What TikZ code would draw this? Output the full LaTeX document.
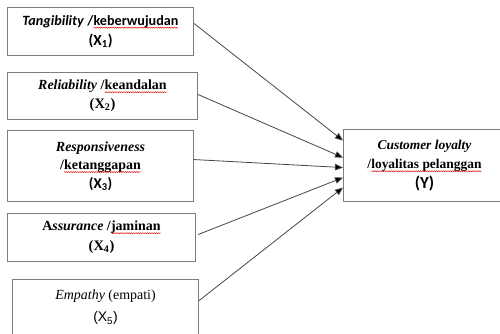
\documentclass[tikz,border=0pt]{standalone}
\usepackage{fontspec}
\setmainfont{Liberation Serif}
\newfontfamily\carl{Carlito}
\newfontfamily\arial{Liberation Sans}
\usetikzlibrary{arrows.meta,decorations.pathmorphing}
\definecolor{boxgray}{RGB}{125,125,125}
\definecolor{arrowgray}{RGB}{70,70,70}
\newcommand\redwave[1]{\tikz[baseline=(w.base)]{\node[draw=none, fill=none, inner sep=0pt, outer sep=0pt, minimum width=0pt, minimum height=0pt, anchor=base] (w) {#1};
  \draw[red!85!black, line width=0.35pt, decorate, decoration={snake, amplitude=0.55pt, segment length=1.8pt}] ([yshift=-2.3pt]w.base west) -- ([yshift=-2.3pt]w.base east);}}
\begin{document}
\begin{tikzpicture}[x=1bp,y=-1bp,
  box/.style={draw=boxgray, line width=1.1bp, align=center, inner sep=0pt, anchor=north west},
  link/.style={draw=arrowgray, line width=0.8bp, -{Triangle[length=8bp,width=6.5bp,fill=black]}}]
\useasboundingbox (0,0) rectangle (500,333);

\node[box, minimum width=186bp, minimum height=48bp, font=\fontsize{14.2}{20}\selectfont\carl\bfseries] (b1) at (7,7)
  {\textit{Tangibility} /\redwave{keberwujudan}\\{\fontsize{15.5}{20}\selectfont(X\textsubscript{1})}};
\node[box, minimum width=190bp, minimum height=47bp, font=\fontsize{14}{19}\selectfont\bfseries] (b2) at (7,72)
  {\textit{Reliability} /\redwave{keandalan}\\{\fontsize{14.5}{19}\selectfont(X\textsubscript{2})}};
\node[box, minimum width=186bp, minimum height=71bp, font=\fontsize{14}{18.5}\selectfont\bfseries] (b3) at (7,130)
  {\textit{Responsiveness}\\/\redwave{ketanggapan}\\{\carl\fontsize{15}{18.5}\selectfont(X\textsubscript{3})}};
\node[box, minimum width=188bp, minimum height=48bp, font=\fontsize{14}{20}\selectfont\bfseries] (b4) at (7,213)
  {A\textit{ssurance} /\redwave{jaminan}\\{\fontsize{14.5}{20}\selectfont(X\textsubscript{4})}};
\node[box, minimum width=186bp, minimum height=56bp, font=\fontsize{14}{22}\selectfont] (b5) at (12,279)
  {\textit{Empathy} (empati)\\{\arial\fontsize{14}{22}\selectfont(X\textsubscript{5})}};
\node[box, minimum width=162bp, minimum height=72bp, font=\fontsize{13.5}{19.5}\selectfont\bfseries] (y) at (343,129)
  {\textit{Customer loyalty}\\/\redwave{loyalitas pelanggan}\\{\carl\fontsize{17}{21}\selectfont(Y)}};

\draw[link] ([yshift=8bp]b1.east) -- ([yshift=25bp]y.west);
\draw[link] ([yshift=1.5bp]b2.east) -- ([yshift=8bp]y.west);
\draw[link] ([yshift=6.5bp]b3.east) -- ([yshift=-2bp]y.west);
\draw[link] ([xshift=2bp,yshift=3bp]b4.east) -- ([yshift=-12bp]y.west);
\draw[link] ([yshift=7bp]b5.east) -- ([yshift=-22bp]y.west);
\end{tikzpicture}
\end{document}
